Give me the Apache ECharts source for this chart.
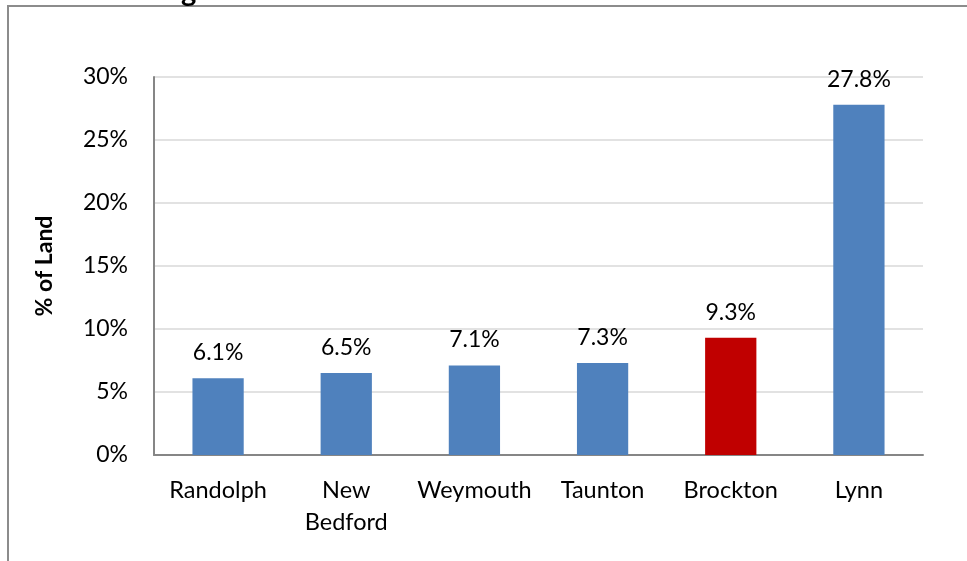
<!DOCTYPE html>
<html>
<head>
<meta charset="utf-8">
<script src="https://cdn.jsdelivr.net/npm/echarts@6/dist/echarts.min.js"></script>
<style>
html, body { margin: 0; padding: 0; background: #fff; }
#chart { width: 967px; height: 561px; }
</style>
</head>
<body>
<div id="chart"></div>
<script>
const cities = ["Randolph", "New\nBedford", "Weymouth", "Taunton", "Brockton", "Lynn"];
const landShare = [6.1, 6.5, 7.1, 7.3, 9.3, 27.8];
const barColors = ["#4F81BD", "#4F81BD", "#4F81BD", "#4F81BD", "#C00000", "#4F81BD"];
const yTicks = { min: 0, max: 30, step: 5 };

const fontFam = "Lato, 'Open Sans', sans-serif";
const chart = echarts.init(document.getElementById("chart"));

const option = {
    animation: false,
    backgroundColor: "#fff",
    graphic: [
        {
            type: "rect",
            shape: { x: 8, y: 6, width: 1000, height: 600 },
            style: { fill: "none", stroke: "#8c8c8c", lineWidth: 2 },
            z: 0
        },
        {
            type: "text",
            left: 181,
            top: -23,
            style: { text: "g", font: "bold 29px " + fontFam, fill: "#000" }
        }
    ],
    grid: { left: 154, right: 44, top: 77, bottom: 106 },
    xAxis: {
        type: "category",
        data: cities,
        axisLine: { lineStyle: { color: "#868686", width: 2 } },
        axisTick: { show: false },
        axisLabel: {
            color: "#000",
            fontFamily: fontFam,
            fontSize: 23.5,
            lineHeight: 32,
            margin: 19,
            interval: 0
        }
    },
    yAxis: {
        type: "value",
        min: yTicks.min,
        max: yTicks.max,
        interval: yTicks.step,
        name: "% of Land",
        nameLocation: "middle",
        nameGap: 98,
        nameRotate: 90,
        nameTextStyle: { color: "#000", fontFamily: fontFam, fontSize: 23, fontWeight: "bold" },
        axisLine: { show: true, lineStyle: { color: "#868686", width: 2 } },
        axisTick: { show: false },
        splitLine: { lineStyle: { color: "#d9d9d9", width: 1.5 } },
        axisLabel: {
            color: "#000",
            fontFamily: fontFam,
            fontSize: 23,
            margin: 26,
            formatter: v => v + "%"
        }
    },
    series: [
        {
            type: "bar",
            barWidth: "40%",
            data: landShare.map((v, i) => ({ value: v, itemStyle: { color: barColors[i] } })),
            label: {
                show: true,
                position: "top",
                distance: 14,
                color: "#000",
                fontFamily: fontFam,
                fontSize: 23,
                formatter: p => p.value.toFixed(1) + "%"
            }
        }
    ]
};
chart.setOption(option);
</script>
</body>
</html>
